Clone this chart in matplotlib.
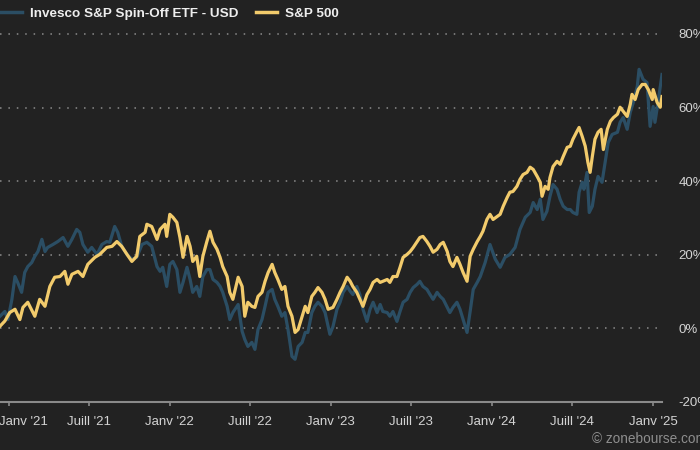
import matplotlib
matplotlib.use("Agg")
import matplotlib.pyplot as plt
import matplotlib.transforms as mtransforms
import pandas as pd

series_names = ["Invesco S&P Spin-Off ETF - USD", "S&P 500"]

spin_dates = ["2020-12-12","2020-12-23","2020-12-30","2021-01-08","2021-01-15","2021-01-21","2021-01-30","2021-02-06",
"2021-02-13","2021-02-22","2021-03-01","2021-03-08","2021-03-17","2021-03-24","2021-03-30","2021-04-11","2021-04-22",
"2021-05-04","2021-05-15","2021-05-24","2021-06-04","2021-06-11","2021-06-18","2021-06-29","2021-07-08","2021-07-20",
"2021-07-31","2021-08-11","2021-08-18","2021-08-29","2021-09-05","2021-09-14","2021-09-26","2021-10-07","2021-10-18",
"2021-10-30","2021-11-10","2021-11-21","2021-12-03","2021-12-10","2021-12-16","2021-12-25","2022-01-01","2022-01-08",
"2022-01-17","2022-01-24","2022-01-31","2022-02-09","2022-02-16","2022-02-22","2022-03-03","2022-03-10","2022-03-17",
"2022-03-26","2022-04-02","2022-04-09","2022-04-18","2022-04-25","2022-05-01","2022-05-11","2022-05-17","2022-05-24",
"2022-06-05","2022-06-14","2022-06-20","2022-06-27","2022-07-06","2022-07-13","2022-07-20","2022-07-29","2022-08-05",
"2022-08-12","2022-08-21","2022-08-27","2022-09-03","2022-09-12","2022-09-19","2022-09-26","2022-10-05","2022-10-12",
"2022-10-19","2022-10-28","2022-11-04","2022-11-10","2022-11-19","2022-11-26","2022-12-03","2022-12-12","2022-12-19",
"2022-12-26","2022-12-30","2023-01-06","2023-01-15","2023-01-22","2023-01-29","2023-02-07","2023-02-14","2023-02-20",
"2023-03-01","2023-03-08","2023-03-15","2023-03-24","2023-03-31","2023-04-07","2023-04-16","2023-04-23","2023-04-29",
"2023-05-09","2023-05-15","2023-05-22","2023-05-31","2023-06-07","2023-06-14","2023-06-23","2023-06-30","2023-07-07",
"2023-07-16","2023-07-22","2023-07-29","2023-08-07","2023-08-14","2023-08-21","2023-08-30","2023-09-06","2023-09-13",
"2023-09-22","2023-09-28","2023-10-05","2023-10-14","2023-10-21","2023-10-28","2023-11-06","2023-11-13","2023-11-20",
"2023-11-29","2023-12-06","2023-12-17","2023-12-28","2024-01-09","2024-01-20","2024-01-31","2024-02-11","2024-02-23",
"2024-03-05","2024-03-17","2024-03-28","2024-04-04","2024-04-13","2024-04-20","2024-04-26","2024-05-05","2024-05-12",
"2024-05-19","2024-05-28","2024-06-04","2024-06-11","2024-06-20","2024-06-27","2024-07-03","2024-07-12","2024-07-17",
"2024-07-24","2024-07-28","2024-08-04","2024-08-09","2024-08-16","2024-08-22","2024-08-29","2024-09-07","2024-09-14",
"2024-09-21","2024-09-30","2024-10-12","2024-10-18","2024-10-25","2024-11-03","2024-11-10","2024-11-17","2024-11-26",
"2024-11-30","2024-12-09","2024-12-18","2024-12-25","2025-01-01","2025-01-05","2025-01-12","2025-01-21"]
spin_values = [3.3,4.6,2.4,7.9,14.1,12.5,9.8,15.2,
16.8,17.9,19.6,20.9,24.2,20.9,22.0,22.8,23.6,
24.7,22.3,24.2,26.9,26.1,22.8,20.7,22.0,20.1,
22.8,23.6,23.4,27.7,26.1,22.3,20.1,18.8,19.3,
22.8,23.4,22.3,16.8,15.5,16.6,11.4,17.4,18.2,
16.0,9.8,12.5,16.6,13.3,9.8,11.4,8.7,14.1,
16.0,16.0,13.3,12.5,11.4,9.8,6.0,2.4,4.3,
6.5,-0.8,-3.0,-4.9,-3.8,-5.7,-0.3,2.4,6.0,
9.8,10.6,7.9,6.0,3.3,4.3,-0.3,-7.6,-8.4,
-4.9,-3.8,-1.1,-1.1,4.3,6.0,7.1,6.0,4.3,
0.5,-1.6,0.5,5.2,7.1,9.8,11.4,10.1,9.2,
11.4,9.2,5.2,1.9,5.2,7.1,4.3,6.5,4.6,
4.3,3.3,4.6,1.9,4.6,7.1,7.9,9.8,11.1,
12.0,12.8,11.4,10.6,9.2,7.9,9.8,8.7,7.9,
5.7,4.3,5.7,7.1,5.2,2.4,-1.1,4.6,10.6,
12.5,14.1,17.9,22.8,18.8,16.6,19.3,20.1,22.0,
26.9,30.2,31.5,34.2,32.3,35.1,29.6,31.8,35.9,
39.1,37.8,35.1,33.2,32.3,32.3,31.5,31.0,37.0,
39.7,37.8,42.4,31.5,33.2,37.8,41.3,39.7,45.1,
50.5,52.7,53.3,56.0,57.3,54.1,58.7,61.4,65.8,
70.4,67.7,66.8,54.9,60.3,56.0,61.4,69.0]

spx_dates = ["2020-12-12","2020-12-23","2021-01-03","2021-01-15","2021-01-26","2021-02-02","2021-02-13","2021-03-01",
"2021-03-12","2021-03-24","2021-04-04","2021-04-15","2021-04-27","2021-05-08","2021-05-15","2021-05-24","2021-06-07",
"2021-06-18","2021-06-29","2021-07-15","2021-07-26","2021-08-11","2021-08-23","2021-09-03","2021-09-14","2021-09-26",
"2021-10-07","2021-10-18","2021-10-25","2021-11-06","2021-11-10","2021-11-21","2021-12-03","2021-12-10","2021-12-21",
"2021-12-25","2022-01-01","2022-01-08","2022-01-17","2022-01-24","2022-01-31","2022-02-09","2022-02-16","2022-02-22",
"2022-03-03","2022-03-10","2022-03-17","2022-03-26","2022-04-02","2022-04-09","2022-04-18","2022-04-25","2022-05-01",
"2022-05-11","2022-05-17","2022-05-24","2022-06-05","2022-06-14","2022-06-20","2022-06-27","2022-07-06","2022-07-13",
"2022-07-20","2022-07-29","2022-08-05","2022-08-12","2022-08-21","2022-08-27","2022-09-03","2022-09-12","2022-09-19",
"2022-09-26","2022-10-05","2022-10-12","2022-10-19","2022-10-28","2022-11-04","2022-11-10","2022-11-19","2022-11-26",
"2022-12-03","2022-12-12","2022-12-19","2022-12-26","2023-01-06","2023-01-15","2023-01-22","2023-01-29","2023-02-07",
"2023-02-14","2023-02-20","2023-03-01","2023-03-08","2023-03-15","2023-03-24","2023-03-31","2023-04-07","2023-04-16",
"2023-04-23","2023-04-29","2023-05-09","2023-05-15","2023-05-22","2023-05-31","2023-06-07","2023-06-14","2023-06-23",
"2023-06-30","2023-07-07","2023-07-16","2023-07-22","2023-07-29","2023-08-07","2023-08-14","2023-08-21","2023-08-30",
"2023-09-06","2023-09-13","2023-09-22","2023-09-28","2023-10-05","2023-10-14","2023-10-21","2023-10-28","2023-11-06",
"2023-11-13","2023-11-20","2023-11-29","2023-12-06","2023-12-12","2023-12-21","2023-12-28","2024-01-04","2024-01-13",
"2024-01-20","2024-01-27","2024-02-05","2024-02-11","2024-02-18","2024-02-27","2024-03-05","2024-03-12","2024-03-21",
"2024-03-28","2024-04-04","2024-04-13","2024-04-20","2024-04-24","2024-05-01","2024-05-08","2024-05-12","2024-05-19",
"2024-05-28","2024-06-04","2024-06-11","2024-06-20","2024-06-27","2024-07-03","2024-07-12","2024-07-17","2024-07-24",
"2024-07-31","2024-08-06","2024-08-11","2024-08-16","2024-08-22","2024-08-29","2024-09-05","2024-09-10","2024-09-19",
"2024-09-26","2024-10-03","2024-10-12","2024-10-18","2024-10-25","2024-11-03","2024-11-10","2024-11-14","2024-11-21",
"2024-11-28","2024-12-07","2024-12-14","2024-12-21","2024-12-30","2025-01-01","2025-01-10","2025-01-17","2025-01-21"]
spx_values = [0.6,2.0,4.3,5.2,2.4,5.7,7.1,3.3,
7.9,6.0,11.4,13.9,14.1,15.5,12.0,14.7,15.5,
14.1,17.4,19.3,20.1,22.0,22.3,23.6,22.3,20.1,
18.2,19.6,25.0,26.1,28.3,27.7,24.2,26.9,28.3,
25.0,31.0,30.2,28.8,24.7,19.3,25.0,22.3,18.2,
19.6,14.1,19.6,23.6,26.4,23.4,21.5,19.3,16.8,
14.1,9.8,7.9,13.9,11.4,3.3,7.1,6.0,5.7,
8.7,9.8,12.8,15.2,17.4,15.2,13.3,10.6,11.4,
6.0,3.3,-1.1,-0.3,3.3,6.0,4.3,8.7,9.8,
11.1,9.8,7.9,5.2,5.7,7.9,9.8,11.4,13.9,
12.8,11.4,9.8,7.9,6.0,9.2,10.6,12.5,13.3,
12.5,12.8,13.3,12.5,14.1,14.1,16.6,19.3,20.1,
20.9,22.0,23.6,24.7,25.0,23.6,22.3,20.7,21.5,
22.8,23.4,20.9,18.2,16.8,19.3,17.4,15.2,12.8,
19.6,21.5,23.6,25.0,26.4,29.6,31.0,29.6,30.4,
31.0,33.2,35.6,37.0,37.2,38.6,40.5,41.8,42.4,
43.8,43.2,41.3,39.7,35.9,38.6,37.8,41.0,44.0,
45.4,44.6,46.7,49.2,49.5,51.4,53.5,54.6,52.2,
49.5,45.1,42.4,46.7,51.4,53.3,54.1,48.6,54.1,
56.3,57.3,58.2,60.1,59.0,57.6,60.9,63.6,62.2,
64.9,66.3,66.3,64.9,62.2,64.9,61.4,60.1,63.0]

x_tick_dates = ["2021-01-01","2021-07-01","2022-01-01","2022-07-01","2023-01-01",
                "2023-07-01","2024-01-01","2024-07-01","2025-01-01"]
x_tick_labels = ["Janv '21","Juill '21","Janv '22","Juill '22","Janv '23",
                 "Juill '23","Janv '24","Juill '24","Janv '25"]
y_ticks = [-20, 0, 20, 40, 60, 80]
y_tick_labels = ["-20%", "0%", "20%", "40%", "60%", "80%"]

BG = "#222222"
BLUE = "#2b4e64"
YELLOW = "#f2cb6c"
TXT = "#d4d4d4"

plt.rcParams["font.family"] = ["Liberation Sans", "DejaVu Sans"]

fig = plt.figure(figsize=(7, 4.5), dpi=100, facecolor=BG)
ax = fig.add_axes([0.0, 1 - 402 / 450, 662 / 700, (402 - 34) / 450])
ax.set_facecolor(BG)

sd = pd.to_datetime(spin_dates)
xd = pd.to_datetime(spx_dates)
l1, = ax.plot(sd, spin_values, color=BLUE, lw=2.3, label=series_names[0], solid_joinstyle="round", zorder=3)
l2, = ax.plot(xd, spx_values, color=YELLOW, lw=2.3, label=series_names[1], solid_joinstyle="round", zorder=4)

ax.set_xlim(pd.Timestamp("2020-12-12"), pd.Timestamp("2025-01-21"))
ax.set_ylim(-20, 80)

for v in y_ticks[1:]:
    ax.axhline(v, color="#8c8c8c", lw=1.1, ls=(0, (1, 4.5)), zorder=1, clip_on=False)

for s in ["top", "left", "right"]:
    ax.spines[s].set_visible(False)
ax.spines["bottom"].set_color("#8a8a8a")
ax.spines["bottom"].set_linewidth(1.5)

ax.set_xticks(pd.to_datetime(x_tick_dates))
ax.set_xticklabels(x_tick_labels)
ax.tick_params(axis="x", colors="#8a8a8a", direction="out", length=3, width=1.2,
               labelcolor=TXT, labelsize=9.5, pad=7)
first = ax.get_xticklabels()[0]
first.set_horizontalalignment("left")
first.set_transform(first.get_transform() + mtransforms.ScaledTranslation(-10 / 100, 0, fig.dpi_scale_trans))

ax.yaxis.tick_right()
ax.set_yticks(y_ticks)
ax.set_yticklabels(y_tick_labels)
ax.tick_params(axis="y", length=0, labelcolor=TXT, labelsize=9.5, pad=12)
for lab in ax.get_yticklabels():
    lab.set_horizontalalignment("left")

leg = fig.legend(handles=[l1, l2], loc="upper left", bbox_to_anchor=(0.0, 0.984), ncol=2,
                 frameon=False, handlelength=1.6, handletextpad=0.6, columnspacing=1.3,
                 borderpad=0, borderaxespad=0,
                 prop={"weight": "bold", "size": 9.7})
for t in leg.get_texts():
    t.set_color("#eeeeee")
for h in leg.legend_handles:
    h.set_linewidth(2.5)

fig.text(592 / 700, 1 - 439 / 450, "© zonebourse.com", color="#8e8e8e", fontsize=9.8, ha="left", va="center")

fig.savefig("out.png", dpi=100, facecolor=BG)
